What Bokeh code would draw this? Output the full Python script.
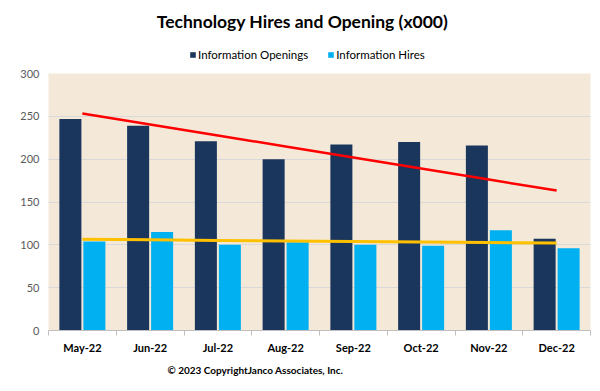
import numpy as np
from bokeh.plotting import figure
from bokeh.layouts import column
from bokeh.models import (Range1d, FixedTicker, Label, Legend, LegendItem, ColumnDataSource)
from bokeh.embed import file_html
from bokeh.resources import INLINE

months = ["May-22", "Jun-22", "Jul-22", "Aug-22", "Sep-22", "Oct-22", "Nov-22", "Dec-22"]
openings = [247, 239, 221, 200, 217, 220, 216, 107]
hires = [104, 115, 100, 103, 100, 99, 117, 96]
y_ticks = [0, 50, 100, 150, 200, 250, 300]
series_names = ["Information Openings", "Information Hires"]
series_colors = ["#1B365D", "#00B0F0"]

FONT = "Lato"
W = 592
idx = np.arange(len(months))
src = ColumnDataSource(dict(xo=idx - 0.177, xh=idx + 0.177, o=openings, h=hires))


def blank(h):
    # frame of these strips is aligned with the main chart's frame (left edge at 48px)
    f = figure(width=W, height=h, output_backend="svg", toolbar_location=None,
               x_axis_type=None, y_axis_type=None, x_range=Range1d(100, 101),
               y_range=Range1d(100, 101), min_border=0)
    f.outline_line_color = None
    f.grid.grid_line_color = None
    return f


# ---- header: title + legend
header = blank(62)
header.add_layout(Label(x=254, y=41, x_units="screen", y_units="screen",
                        text="Technology Hires and Opening (x000)", text_align="center",
                        text_baseline="middle", text_font=FONT, text_font_size="17.5px",
                        text_font_style="bold", text_color="#000000"))
items = []
for name, color in zip(series_names, series_colors):
    # legend proxies: zero-size glyphs outside the header's visible range
    r = header.vbar(x="xo", top=0, bottom=0, width=0, source=src, fill_color=color,
                    line_color=None)
    items.append(LegendItem(label=name, renderers=[r]))
legend = Legend(items=items, orientation="horizontal", location=(141, 1),
                label_text_font=FONT, label_text_font_size="11.5px", label_text_color="#000000",
                glyph_width=7, glyph_height=7, label_height=14, label_standoff=2, spacing=19,
                border_line_color=None, background_fill_alpha=0, padding=0, margin=0)
header.add_layout(legend, "center")

# ---- main chart
p = figure(width=W, height=294, output_backend="svg", toolbar_location=None,
           x_range=Range1d(-0.5, len(months) - 0.5), y_range=Range1d(0, 300),
           min_border_left=48, min_border_right=2, min_border_bottom=25, min_border_top=11)

p.background_fill_color = "#F4E9D8"
p.border_fill_color = "white"
p.outline_line_color = None

p.vbar(x="xo", top="o", width=0.325, source=src, fill_color=series_colors[0], line_color=None)
p.vbar(x="xh", top="h", width=0.325, source=src, fill_color=series_colors[1], line_color=None)

# linear trend lines (as Excel)
ko, bo = np.polyfit(idx, openings, 1)
kh, bh = np.polyfit(idx, hires, 1)
p.line(idx, ko * idx + bo, line_color="#FF0000", line_width=2.5)
p.line(idx, kh * idx + bh, line_color="#FFC000", line_width=3)

p.xaxis.ticker = FixedTicker(ticks=list(idx), minor_ticks=list(np.arange(-0.5, len(months), 1.0)))
p.xaxis.major_label_overrides = {int(i): m for i, m in zip(idx, months)}
p.xaxis.major_tick_line_color = None
p.xaxis.major_tick_out = 0
p.xaxis.major_tick_in = 0
p.xaxis.minor_tick_line_color = "#BFBFBF"
p.xaxis.minor_tick_out = 5
p.xaxis.minor_tick_in = 0
p.xaxis.axis_line_color = "#BFBFBF"
p.xaxis.major_label_text_font = FONT
p.xaxis.major_label_text_font_style = "bold"
p.xaxis.major_label_text_font_size = "11px"
p.xaxis.major_label_text_color = "#000000"
p.xaxis.major_label_standoff = 5

p.yaxis.ticker = FixedTicker(ticks=y_ticks)
p.yaxis.axis_line_color = None
p.yaxis.major_tick_line_color = None
p.yaxis.minor_tick_line_color = None
p.yaxis.major_tick_out = 0
p.yaxis.major_label_standoff = 9
p.yaxis.major_label_text_font = FONT
p.yaxis.major_label_text_font_size = "11px"
p.yaxis.major_label_text_color = "#595959"

p.xgrid.grid_line_color = None
p.ygrid.grid_line_color = "#D9D9D9"
p.ygrid.ticker = FixedTicker(ticks=y_ticks)

# ---- footer: copyright
footer = blank(27)
footer.add_layout(Label(x=119, y=14, x_units="screen", y_units="screen",
                        text="© 2023 CopyrightJanco Associates, Inc.", text_align="left",
                        text_baseline="middle", text_font=FONT, text_font_size="10px",
                        text_font_style="bold", text_color="#000000"))

layout = column(header, p, footer, spacing=0)
open("out.html", "w").write(file_html(layout, INLINE))
